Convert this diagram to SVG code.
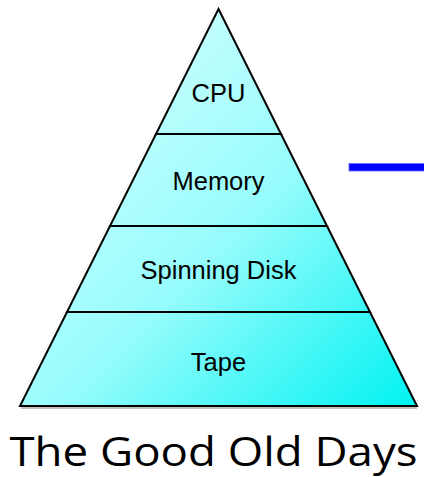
<svg xmlns="http://www.w3.org/2000/svg" width="424" height="477" viewBox="0 0 424 477">
  <defs>
    <linearGradient id="whole" gradientUnits="userSpaceOnUse" x1="60" y1="50" x2="417" y2="406">
      <stop offset="0" stop-color="#d6ffff"/>
      <stop offset="0.5" stop-color="#96fcfc"/>
      <stop offset="1" stop-color="#00f2f2"/>
    </linearGradient>
    <style>
      .band { fill: url(#whole); stroke: #000; stroke-width: 2; stroke-linejoin: miter; }
      .lbl { font-family: "Liberation Sans", Arial, sans-serif; font-size: 25.5px; fill: #000; text-anchor: middle; }
      .title { font-family: "Open Sans", Lato, sans-serif; font-weight: 400; font-size: 40px; fill: #000; text-anchor: middle; }
    </style>
  </defs>
  <rect width="424" height="477" fill="#fff"/>
  <line x1="21" y1="408" x2="417" y2="408" stroke="#999" stroke-width="2" opacity="0.6"/>
  <g id="tape">
    <polygon class="band" points="67,312 370,312 417,406 20,406"/>
    <text class="lbl" x="218.5" y="371">Tape</text>
  </g>
  <g id="spinning-disk">
    <polygon class="band" points="110,226 327,226 370,312 67,312"/>
    <text class="lbl" x="218.5" y="278.5">Spinning Disk</text>
  </g>
  <g id="memory">
    <polygon class="band" points="156,134 281,134 327,226 110,226"/>
    <text class="lbl" x="218.5" y="190">Memory</text>
  </g>
  <g id="cpu">
    <polygon class="band" points="218.5,9 281,134 156,134"/>
    <text class="lbl" x="218.5" y="102">CPU</text>
  </g>
  <g id="connectors">
    <rect x="349" y="163.5" width="76" height="7.5" fill="#0000ff" stroke="#6a6aff" stroke-width="0.8"/>
  </g>
  <g id="title">
    <text class="title" x="213.5" y="466" textLength="408" lengthAdjust="spacingAndGlyphs">The Good Old Days</text>
  </g>
</svg>
